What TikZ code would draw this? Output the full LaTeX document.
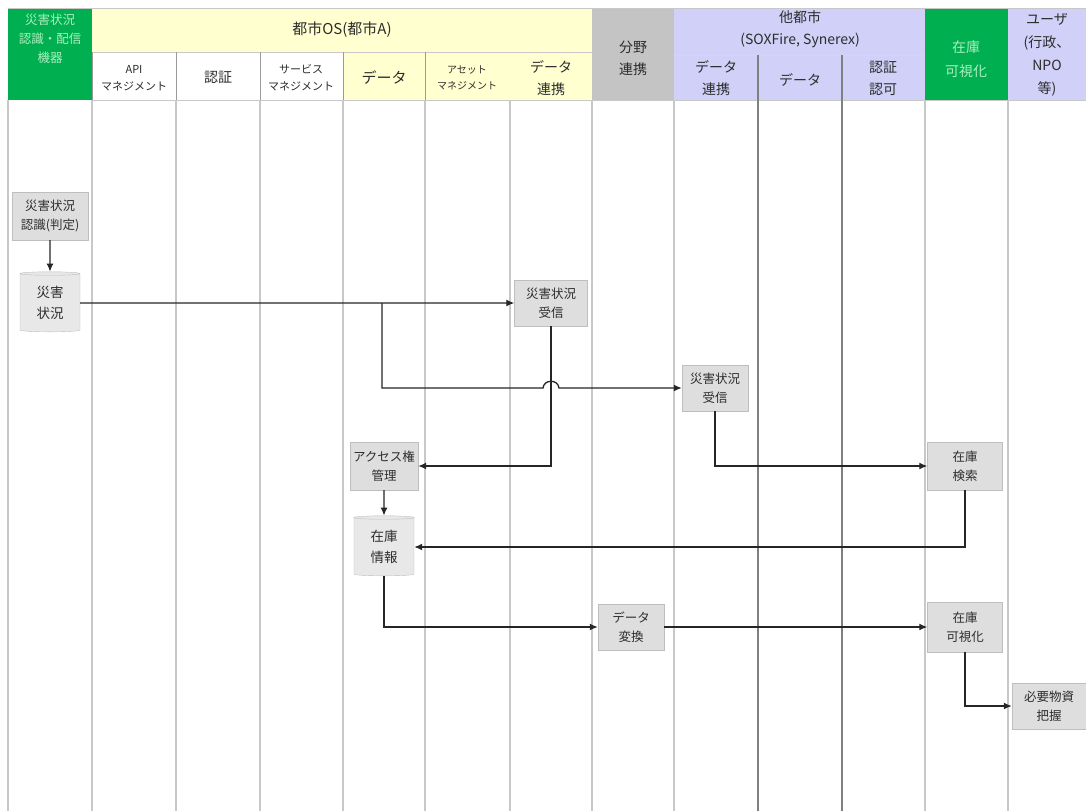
\documentclass[tikz,border=0pt]{standalone}
\usepackage{fontspec}
\setmainfont{Noto Sans CJK JP}
\usetikzlibrary{arrows.meta,shapes.geometric,calc}
\definecolor{hgreen}{RGB}{0,176,80}
\definecolor{hgtext}{RGB}{170,240,190}
\definecolor{hyellow}{RGB}{255,255,208}
\definecolor{hgray}{RGB}{196,196,196}
\definecolor{hlav}{RGB}{208,208,248}
\definecolor{lgrid}{RGB}{200,200,200}
\definecolor{dgrid}{RGB}{128,128,128}
\definecolor{boxfill}{RGB}{222,222,222}
\definecolor{boxline}{RGB}{190,190,190}
\definecolor{txt}{RGB}{45,45,45}
\tikzset{
  htext/.style={text=txt,align=center,inner sep=0pt,font=\fontsize{14}{22}\selectfont},
  hsmall/.style={text=txt,align=center,inner sep=0pt,font=\fontsize{11}{17}\selectfont},
  gtext/.style={text=hgtext,align=center,inner sep=0pt,font=\fontsize{12.5}{19}\selectfont},
  procbox/.style={draw=boxline,fill=boxfill,text=txt,align=center,inner sep=1pt,
    font=\fontsize{12.5}{19}\selectfont},
  dbbox/.style={cylinder,shape border rotate=90,aspect=0.12,draw=boxline,fill=boxfill!70,
    text=txt,align=center,inner sep=1pt,font=\fontsize{13.5}{21}\selectfont,
    minimum width=60pt,minimum height=60pt},
  flow/.style={draw=black!85,line width=1.3pt,-{Latex[length=8pt,width=7pt]}},
  lgridline/.style={draw=lgrid,line width=1.6pt},
  dgridline/.style={draw=dgrid,line width=2pt}
}
\begin{document}
\begin{tikzpicture}[x=1pt,y=-1pt]
\useasboundingbox (0,0) rectangle (1086,811);
\fill[white] (0,0) rectangle (1086,811);
% header backgrounds
\fill[hgreen] (8,8) rectangle (92,100);
\fill[hyellow] (92,8) rectangle (592,52);
\fill[white] (92,52) rectangle (343,100);
\fill[hyellow] (343,52) rectangle (592,100);
\fill[hgray] (592,8) rectangle (674,100);
\fill[hlav] (674,8) rectangle (925,100);
\fill[hgreen] (925,8) rectangle (1008,100);
\fill[hlav] (1008,8) rectangle (1086,100);
\draw[lgrid,line width=1pt] (8,8) -- (1086,8);
\draw[lgrid,line width=0.8pt] (92,52) -- (592,52);
\draw[lgrid!70,line width=0.8pt] (674,55) -- (925,55);
\draw[lgrid,line width=0.8pt] (92,100) -- (1086,100);
\foreach \x in {92,176,260,343,425} \draw[dgrid!80,line width=1pt] (\x,52) -- (\x,100);
% body grid lines
\foreach \x in {8,92,176,260,343,425,510,592,674,925,1008} \draw[lgridline] (\x,100) -- (\x,811);
\draw[dgridline] (758,55) -- (758,811);
\draw[dgridline] (842,55) -- (842,811);
% header texts
\node[gtext] (h1) at (50,39) {災害状況\\認識・配信\\機器};
\node[htext,font=\fontsize{15}{18}\selectfont] (h2) at (342,30) {都市OS(都市A)};
\node[hsmall] (h3) at (134,78) {API\\マネジメント};
\node[htext] (h4) at (218,77) {認証};
\node[hsmall] (h5) at (301,78) {サービス\\マネジメント};
\node[htext,font=\fontsize{15}{18}\selectfont] (h6) at (384,78) {データ};
\node[hsmall,font=\fontsize{10}{16}\selectfont] (h7) at (467,78) {アセット\\マネジメント};
\node[htext] (h8) at (551,78) {データ\\連携};
\node[htext] (h9) at (633,58) {分野\\連携};
\node[htext] (h10) at (800,29) {他都市\\(SOXFire, Synerex)};
\node[htext] (h11) at (716,78) {データ\\連携};
\node[htext] (h12) at (800,80) {データ};
\node[htext] (h13) at (883,78) {認証\\認可};
\node[gtext,font=\fontsize{14}{24}\selectfont] (h14) at (966,59) {在庫\\可視化};
\node[htext,font=\fontsize{14}{23}\selectfont] (h15) at (1047,55) {ユーザ\\(行政、\\NPO\\等)};
% process nodes
\node[procbox,minimum width=76pt,minimum height=48pt] (n1) at (50,216) {災害状況\\認識(判定)};
\node[dbbox] (n2) at (50,303) {災害\\状況};
\node[procbox,minimum width=73pt,minimum height=46pt] (n3) at (551,303) {災害状況\\受信};
\node[procbox,minimum width=66pt,minimum height=46pt] (n4) at (715,388) {災害状況\\受信};
\node[procbox,minimum width=68pt,minimum height=48pt] (n5) at (384,466) {アクセス権\\管理};
\node[dbbox] (n6) at (384,547) {在庫\\情報};
\node[procbox,minimum width=75pt,minimum height=48pt] (n7) at (965,466) {在庫\\検索};
\node[procbox,minimum width=66pt,minimum height=46pt] (n8) at (631,627) {データ\\変換};
\node[procbox,minimum width=75pt,minimum height=50pt] (n9) at (965,627) {在庫\\可視化};
\node[procbox,minimum width=74pt,minimum height=46pt] (n10) at (1049,706) {必要物資\\把握};
% connectors
\coordinate (b1) at (382,303);
\coordinate (hp) at (n3.south |- n4.west);
\draw[flow] (n1.south) -- (n2.north);
\draw[flow] (n2.east) -- (n3.west);
\draw[flow] (b1) -- (b1 |- n4.west) -- ($(hp)+(-8,0)$)
  .. controls ($(hp)+(-7,-9)$) and ($(hp)+(7,-9)$) .. ($(hp)+(8,0)$) -- (n4.west);
\draw[flow] (n3.south) |- (n5.east);
\draw[flow] (n4.south) |- (n7.west);
\draw[flow] (n7.south) |- (n6.east);
\draw[flow] (n5.south) -- (n6.north);
\draw[flow] (n6.south) |- (n8.west);
\draw[flow] (n8.east) -- (n9.west);
\draw[flow] (n9.south) |- (n10.west);
\end{tikzpicture}
\end{document}
